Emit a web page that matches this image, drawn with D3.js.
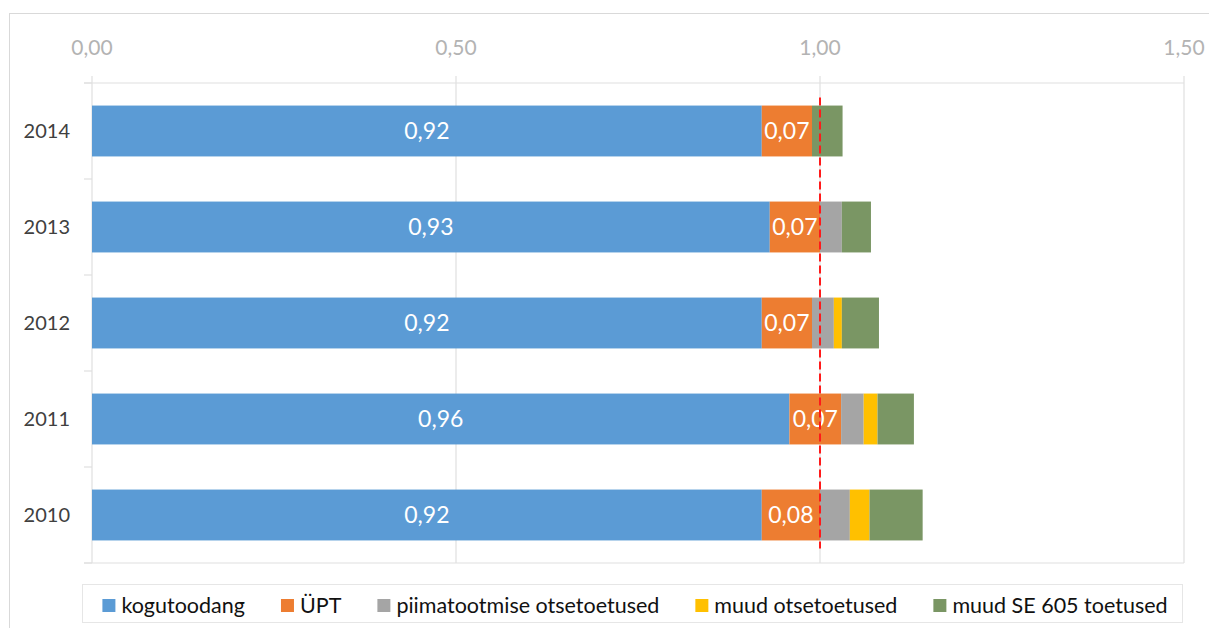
<!DOCTYPE html>
<html><head><meta charset="utf-8">
<script src="https://cdn.jsdelivr.net/npm/d3@7/dist/d3.min.js"></script>
<style>
body{margin:0;background:#fff;}
text{font-family:Lato,"Open Sans",sans-serif;}
</style></head>
<body>
<svg id="c" width="1209" height="628"></svg>
<script>
const years = ["2014","2013","2012","2011","2010"];
const seriesNames = ["kogutoodang","ÜPT","piimatootmise otsetoetused","muud otsetoetused","muud SE 605 toetused"];
const kogutoodang = [0.920,0.931,0.920,0.958,0.920];
const upt        = [0.069,0.069,0.069,0.071,0.080];
const piim       = [0.000,0.030,0.030,0.031,0.041];
const muudOtse   = [0.000,0.000,0.011,0.019,0.027];
const muudSE     = [0.042,0.040,0.051,0.050,0.073];
const xTicks = [0,0.5,1.0,1.5];
const xTickLabels = ["0,00","0,50","1,00","1,50"];
const refValue = 1.0;
const colors = ["#5b9bd5","#ed7d31","#a5a5a5","#ffc000","#7a9664"];

const rows = years.map((y,i)=>({year:y, kogutoodang:kogutoodang[i], upt:upt[i], piim:piim[i], muudOtse:muudOtse[i], muudSE:muudSE[i]}));
const keys = ["kogutoodang","upt","piim","muudOtse","muudSE"];

const svg = d3.select("#c");
const L=92, R=1184, T=83, B=563;
const x = d3.scaleLinear().domain([0,1.5]).range([L,R]);
const y = d3.scaleBand().domain(years).range([T,B]).paddingInner(0.47).paddingOuter(0.235);

// outer border
svg.append("rect").attr("x",9.5).attr("y",13.5).attr("width",1210).attr("height",640)
  .attr("fill","none").attr("stroke","#d9d9d9");

// gridlines with top ticks
svg.append("g").selectAll("line").data(xTicks).join("line")
  .attr("x1",d=>x(d)).attr("x2",d=>x(d)).attr("y1",T-7).attr("y2",B)
  .attr("stroke","#e0e0e0").attr("stroke-width",1.2);
// top axis line
svg.append("line").attr("x1",L-8).attr("x2",R).attr("y1",T).attr("y2",T).attr("stroke","#e0e0e0").attr("stroke-width",1.2);
// category boundaries ticks on left + bottom line
const bounds = d3.range(years.length+1).map(i=>T+i*y.step());
svg.append("g").selectAll("line").data(bounds).join("line")
  .attr("x1",L-8).attr("x2",L).attr("y1",d=>d).attr("y2",d=>d)
  .attr("stroke","#e0e0e0").attr("stroke-width",1.2);
svg.append("line").attr("x1",L-8).attr("x2",R).attr("y1",B).attr("y2",B).attr("stroke","#e0e0e0").attr("stroke-width",1.2);

// tick labels
svg.append("g").selectAll("text").data(xTicks).join("text")
  .attr("x",d=>x(d)).attr("y",55).attr("text-anchor","middle")
  .attr("font-size",21).attr("fill","#b3b3b3").text((d,i)=>xTickLabels[i]);

// category labels
svg.append("g").selectAll("text").data(years).join("text")
  .attr("x",70).attr("y",d=>y(d)+y.bandwidth()/2).attr("dy","0.36em").attr("text-anchor","end")
  .attr("font-size",20).attr("fill","#404040").text(d=>d);

// stacks
const stack = d3.stack().keys(keys)(rows);
const g = svg.append("g");
stack.forEach((s,si)=>{
  g.append("g").attr("fill",colors[si]).selectAll("rect").data(s).join("rect")
   .attr("x",d=>x(d[0])).attr("width",d=>Math.max(0,x(d[1])-x(d[0])))
   .attr("y",d=>y(d.data.year)).attr("height",y.bandwidth());
});
const fmt = v=>d3.format(".2f")(v).replace(".",",");
[0,1].forEach(si=>{
  g.append("g").selectAll("text").data(stack[si]).join("text")
   .attr("x",d=>(x(d[0])+x(d[1]))/2).attr("y",d=>y(d.data.year)+y.bandwidth()/2).attr("dy","0.36em")
   .attr("text-anchor","middle").attr("fill","#fff").attr("font-size",23)
   .text(d=>fmt(d[1]-d[0]));
});

// reference line
svg.append("line").attr("x1",x(refValue)).attr("x2",x(refValue))
  .attr("y1",y(years[0])-8).attr("y2",y(years[years.length-1])+y.bandwidth()+8)
  .attr("stroke","#ff1a1a").attr("stroke-width",2).attr("stroke-dasharray","8,4");

// legend
const lg = svg.append("g");
lg.append("rect").attr("x",82.5).attr("y",584.5).attr("width",1100).attr("height",38)
  .attr("fill","#fff").attr("stroke","#e6e6e6");
const items = lg.selectAll("g").data(seriesNames).join("g");
items.append("rect").attr("width",13).attr("height",13).attr("y",-14).attr("fill",(d,i)=>colors[i]);
items.append("text").attr("x",19).attr("y",0).attr("font-size",21.5).attr("fill","#111").text(d=>d);
const widths = [];
items.each(function(){widths.push(19+this.querySelector("text").getComputedTextLength());});
const gap = 36;
const total = d3.sum(widths)+gap*(widths.length-1);
let cx = 635 - total/2;
items.attr("transform",(d,i)=>{const t=`translate(${cx},${613})`; cx+=widths[i]+gap; return t;});
</script>
</body></html>
